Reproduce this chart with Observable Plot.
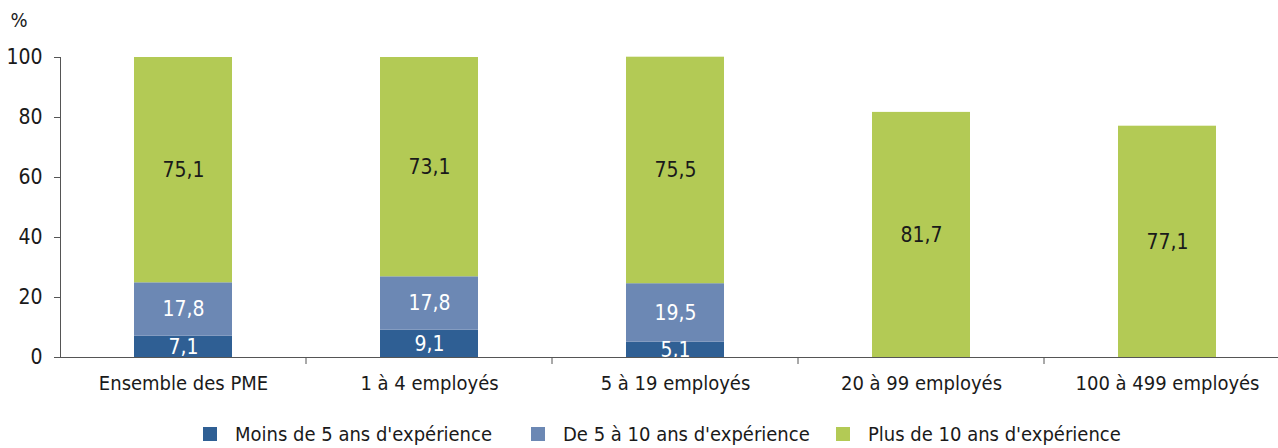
<!DOCTYPE html>
<html><head><meta charset="utf-8">
<script src="https://cdn.jsdelivr.net/npm/d3@7"></script>
<script src="https://cdn.jsdelivr.net/npm/@observablehq/plot@0.6"></script>
<style>
body{margin:0;background:#fff;font-family:"DejaVu Sans Condensed","DejaVu Sans",sans-serif;font-stretch:condensed;}
#chart svg{display:block;overflow:visible;font-stretch:condensed}
.legend{display:flex;height:33px;align-items:center;position:relative;font-size:20px;color:#1a1a1a;font-stretch:condensed}
.legend .item{position:absolute;display:flex;align-items:center;top:7px}
.legend .sw{width:14px;height:14px;margin-right:18px}
</style></head>
<body>
<div id="chart"></div>
<div class="legend" id="legend"></div>
<script>
const categories = ["Ensemble des PME", "1 à 4 employés", "5 à 19 employés", "20 à 99 employés", "100 à 499 employés"];
const seriesNames = ["Moins de 5 ans d'expérience", "De 5 à 10 ans d'expérience", "Plus de 10 ans d'expérience"];
const moins5 = [7.1, 9.1, 5.1, null, null];
const de5a10 = [17.8, 17.8, 19.5, null, null];
const plus10 = [75.1, 73.1, 75.5, 81.7, 77.1];
const colors = ["#2f5f94", "#6c88b4", "#b3ca55"];
const yTicks = [0, 20, 40, 60, 80, 100];

const seriesValues = [moins5, de5a10, plus10];
const rows = [];
categories.forEach((c, i) => {
  seriesValues.forEach((vals, s) => {
    if (vals[i] != null) rows.push({cat: c, series: seriesNames[s], value: vals[i], s});
  });
});

const fontFamily = '"DejaVu Sans Condensed","DejaVu Sans",sans-serif';
const stack = {x: "cat", y: "value", z: "series", order: seriesNames};

const plot = Plot.plot({
  width: 1278,
  height: 415,
  marginLeft: 60,
  marginRight: 0,
  marginTop: 57,
  marginBottom: 58,
  style: {fontFamily, fontSize: "20px", color: "#1a1a1a", background: "#fff"},
  x: {domain: categories, range: [60, 1290], paddingInner: 0.6, paddingOuter: 0.3, label: null},
  y: {domain: [0, 100], ticks: yTicks, label: null},
  color: {domain: seriesNames, range: colors},
  marks: [
    Plot.barY(rows, Plot.stackY({...stack, fill: "series"})),
    Plot.text(rows, Plot.stackY({...stack, y: "value", text: d => d.value.toFixed(1).replace(".", ","),
      fill: d => d.s === 2 ? "#1a1a1a" : "#ffffff", fontSize: 21})),
    Plot.frame({anchor: "left", stroke: "#555"}),
    Plot.ruleY([0], {stroke: "#555"}),
    Plot.axisY({ticks: yTicks, tickSize: 6, tickPadding: 12, stroke: "#555", fontSize: 21}),
    Plot.text(["%"], {frameAnchor: "top-left", dx: -50, dy: -45, text: d => d, fontSize: 20, textAnchor: "start", fill: "#1a1a1a"}),
    Plot.axisX({tickSize: 0, tickPadding: 18, fontSize: 20, label: null})
  ]
});
document.getElementById("chart").appendChild(plot);

// category separator ticks from the x scale
const xs = plot.scale("x");
const svg = d3.select(plot);
const step = xs.step, bw = xs.bandwidth;
const y0 = plot.scale("y").apply(0);
categories.slice(1).forEach(c => {
  const px = xs.apply(c) - (step - bw) / 2;
  svg.append("line").attr("x1", px).attr("x2", px).attr("y1", y0).attr("y2", y0 + 7)
    .attr("stroke", "#555");
});

// legend
const lg = document.getElementById("legend");
const legendX = [203, 531, 836];
seriesNames.forEach((n, i) => {
  const it = document.createElement("div");
  it.className = "item";
  it.style.left = legendX[i] + "px";
  it.innerHTML = `<span class="sw" style="background:${colors[i]}"></span><span>${n}</span>`;
  lg.appendChild(it);
});
</script>
</body></html>
